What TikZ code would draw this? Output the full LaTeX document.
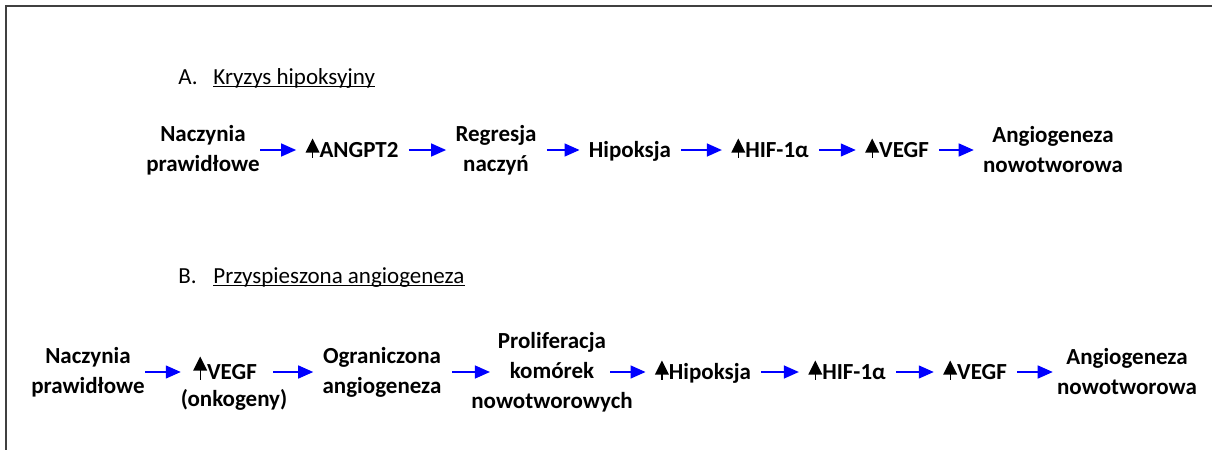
\documentclass[tikz,border=0pt]{standalone}
\usepackage{fontspec}
\setmainfont{Carlito}
\usetikzlibrary{arrows.meta}
\definecolor{FlowClr}{RGB}{0,0,255}
\definecolor{FrameClr}{RGB}{64,64,64}

% small "increase" mark (tree-like up arrow), #1 = stem length in pt
\newcommand{\incr}[1][2.5]{\tikz[baseline=0pt,x=1pt,y=1pt]{%
  \draw[line width=0.6pt] (0,0) -- (0,#1+0.5);
  \fill (-3.5,#1) -- (3.5,#1) -- (0,#1+7) -- cycle;}}

\begin{document}
\begin{tikzpicture}[x=0.5pt,y=-0.5pt,
  heading/.style={inner sep=0pt,anchor=base west,font=\fontsize{11.5}{15}\selectfont},
  stage/.style={inner sep=0pt,align=center,font=\fontsize{11.5}{15}\selectfont\bfseries},
  single/.style={stage,text height=7.5pt,text depth=0pt},
  flow/.style={FlowClr,line width=0.7pt,-{Triangle[length=7.5pt,width=6.5pt]},
    shorten <=5pt,shorten >=4.5pt}]
\useasboundingbox (0,0) rectangle (1212,450);

% frame
\draw[FrameClr,line width=0.6pt] (6,450) -- (6,6) -- (1212,6);

% A. Kryzys hipoksyjny
\node[heading] (la) at (178,84) {A.};
\node[heading] (ta) at (213,84) {Kryzys hipoksyjny};
\draw[line width=0.5pt] ([yshift=-1pt]ta.base west) -- ([yshift=-1pt]ta.base east);

\node[stage]  (a1) at (203,150) {Naczynia\\prawidłowe};
\node[single] (a2) at (352,150) {\incr ANGPT2};
\node[stage]  (a3) at (496,150) {Regresja\\naczyń};
\node[single] (a4) at (630,150) {Hipoksja};
\node[single] (a5) at (770,150) {\incr HIF-1α};
\node[single] (a6) at (897,150) {\incr VEGF};
\node[stage]  (a7) at (1053,150) {Angiogeneza\\nowotworowa};

\draw[flow,shorten <=0pt] (a1) -- (a2);
\draw[flow] (a2) -- (a3);
\draw[flow] (a3) -- (a4);
\draw[flow] (a4) -- (a5);
\draw[flow] (a5) -- (a6);
\draw[flow] (a6) -- (a7);

% B. Przyspieszona angiogeneza
\node[heading] (lb) at (178,283) {B.};
\node[heading] (tb) at (213,283) {Przyspieszona angiogeneza};
\draw[line width=0.5pt] ([yshift=-1pt]tb.base west) -- ([yshift=-1pt]tb.base east);

\node[stage]  (b1) at (88,372) {Naczynia\\prawidłowe};
\node[single] (b2) at (225,372) {\incr[4.5]VEGF};
\node[stage]  (b2n) at (234,400) {(onkogeny)};
\node[stage]  (b3) at (382,372) {Ograniczona\\angiogeneza};
\node[stage]  (b4) at (552,372) {Proliferacja\\komórek\\nowotworowych};
\node[single] (b5) at (703,372) {\incr Hipoksja};
\node[single] (b6) at (847,372) {\incr HIF-1α};
\node[single] (b7) at (975,372) {\incr VEGF};
\node[stage]  (b8) at (1127,372) {Angiogeneza\\nowotworowa};

\draw[flow,shorten <=0pt,shorten >=6pt] (b1) -- (b2);
\draw[flow,shorten <=8pt] (b2) -- (b3);
\draw[flow] (b3) -- ([xshift=14pt]b4.west);
\draw[flow] ([xshift=-16.5pt]b4.east) -- (b5);
\draw[flow] (b5) -- (b6);
\draw[flow] (b6) -- (b7);
\draw[flow,shorten >=2pt] (b7) -- (b8);
\end{tikzpicture}
\end{document}
